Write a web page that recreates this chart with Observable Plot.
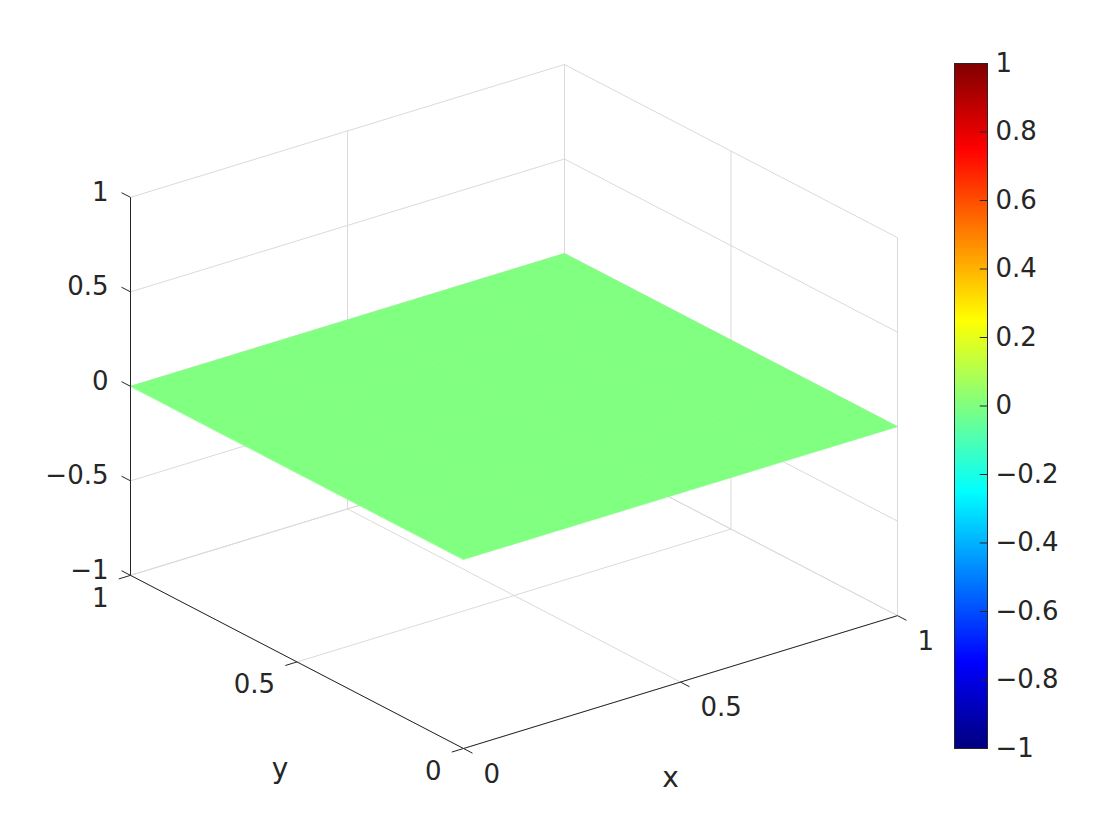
<!DOCTYPE html>
<html>
<head>
<meta charset="utf-8">
<script src="https://cdn.jsdelivr.net/npm/d3@7"></script>
<script src="https://cdn.jsdelivr.net/npm/@observablehq/plot@0.6"></script>
<style>
  html, body { margin: 0; padding: 0; background: #fff; }
  #wrap { position: relative; width: 1120px; height: 840px; overflow: hidden; }
  #main { position: absolute; left: 0; top: 0; }
  #cbar { position: absolute; left: 953px; top: 0; }
</style>
</head>
<body>
<div id="wrap"><div id="main"></div><div id="cbar"></div></div>
<script>
// ---- data ----
const xLim = [0, 1];
const yLim = [0, 1];
const zLim = [-1, 1];
const xTicks = [0, 0.5, 1];
const yTicks = [0, 0.5, 1];
const zTicks = [-1, -0.5, 0, 0.5, 1];
const cbTicks = [-1, -0.8, -0.6, -0.4, -0.2, 0, 0.2, 0.4, 0.6, 0.8, 1];
const cLim = [-1, 1];
const xGrid = [0, 0.25, 0.5, 0.75, 1];
const yGrid = [0, 0.25, 0.5, 0.75, 1];
const zValues = [
  [0, 0, 0, 0, 0],
  [0, 0, 0, 0, 0],
  [0, 0, 0, 0, 0],
  [0, 0, 0, 0, 0],
  [0, 0, 0, 0, 0]
];
const viewAz = -37.5, viewEl = 30;

// ---- jet colormap ----
function jet(t) {
  const c = v => Math.max(0, Math.min(1, v));
  const r = c(1.5 - Math.abs(4 * t - 3));
  const g = c(1.5 - Math.abs(4 * t - 2));
  const b = c(1.5 - Math.abs(4 * t - 1));
  return d3.rgb(r * 255, g * 255, b * 255).formatHex();
}

// ---- projection (orthographic, MATLAB view) ----
const A = -viewAz * Math.PI / 180, E = viewEl * Math.PI / 180;
function proj(x, y, z) {
  const xn = (x - xLim[0]) / (xLim[1] - xLim[0]);
  const yn = (y - yLim[0]) / (yLim[1] - yLim[0]);
  const zn = (z - zLim[0]) / (zLim[1] - zLim[0]);
  return {
    u: xn * Math.cos(A) - yn * Math.sin(A),
    v: Math.sin(E) * (xn * Math.sin(A) + yn * Math.cos(A)) + Math.cos(E) * zn
  };
}
function seg(p, q) {
  const a = proj(...p), b = proj(...q);
  return {u1: a.u, v1: a.v, u2: b.u, v2: b.v};
}

// grid lines on back walls and floor
const gridSegs = [];
for (const xt of xTicks) {
  gridSegs.push(seg([xt, yLim[1], zLim[0]], [xt, yLim[1], zLim[1]]));
  gridSegs.push(seg([xt, yLim[0], zLim[0]], [xt, yLim[1], zLim[0]]));
}
for (const yt of yTicks) {
  gridSegs.push(seg([xLim[1], yt, zLim[0]], [xLim[1], yt, zLim[1]]));
  gridSegs.push(seg([xLim[0], yt, zLim[0]], [xLim[1], yt, zLim[0]]));
}
for (const zt of zTicks) {
  gridSegs.push(seg([xLim[0], yLim[1], zt], [xLim[1], yLim[1], zt]));
  gridSegs.push(seg([xLim[1], yLim[0], zt], [xLim[1], yLim[1], zt]));
}

// surface cells
const cellPts = [];
let cid = 0;
for (let i = 0; i < xGrid.length - 1; i++) {
  for (let j = 0; j < yGrid.length - 1; j++) {
    const corners = [[i, j], [i + 1, j], [i + 1, j + 1], [i, j + 1]];
    const val = d3.mean(corners, ([a, b]) => zValues[b][a]);
    for (const [a, b] of corners) {
      const p = proj(xGrid[a], yGrid[b], zValues[b][a]);
      cellPts.push({cell: cid, u: p.u, v: p.v, val});
    }
    cid++;
  }
}

// axes
const axisSegs = [
  seg([xLim[0], yLim[0], zLim[0]], [xLim[1], yLim[0], zLim[0]]),
  seg([xLim[0], yLim[0], zLim[0]], [xLim[0], yLim[1], zLim[0]]),
  seg([xLim[0], yLim[1], zLim[0]], [xLim[0], yLim[1], zLim[1]])
];
const tl = 0.027;
const tickSegs = [
  ...xTicks.map(t => seg([t, yLim[0], zLim[0]], [t, yLim[0] - tl, zLim[0]])),
  ...yTicks.map(t => seg([xLim[0], t, zLim[0]], [xLim[0] - tl, t, zLim[0]])),
  ...zTicks.map(t => seg([xLim[0], yLim[1], t], [xLim[0], yLim[1] + tl, t]))
];
const fmt = d3.format("~g");
const xLab = xTicks.map(t => ({...proj(t, yLim[0], zLim[0]), s: fmt(t)}));
const yLab = yTicks.map(t => ({...proj(xLim[0], t, zLim[0]), s: fmt(t)}));
const zLab = zTicks.map(t => ({...proj(xLim[0], yLim[1], t), s: fmt(t)}));
const xTitle = [{...proj((xLim[0] + xLim[1]) / 2, yLim[0], zLim[0]), s: "x"}];
const yTitle = [{...proj(xLim[0], (yLim[0] + yLim[1]) / 2, zLim[0]), s: "y"}];

const ink = "#262626";
const font = "DejaVu Sans, sans-serif";
const uDom = [-Math.sin(A), Math.cos(A)];
const vDom = [0, Math.sin(E) * (Math.sin(A) + Math.cos(A)) + Math.cos(E)];

const main = Plot.plot({
  width: 1120, height: 840,
  marginLeft: 130, marginRight: 223, marginTop: 64, marginBottom: 92,
  x: {domain: uDom, axis: null},
  y: {domain: vDom, axis: null},
  color: {type: "linear", domain: cLim, interpolate: jet},
  style: {fontFamily: font, fontSize: "26px", color: ink, background: "white"},
  marks: [
    Plot.link(gridSegs, {x1: "u1", y1: "v1", x2: "u2", y2: "v2", stroke: "#dadada", strokeWidth: 1}),
    Plot.line(cellPts, {x: "u", y: "v", z: "cell", fill: "val", stroke: "val", strokeWidth: 0.6, curve: "linear-closed"}),
    Plot.link(axisSegs, {x1: "u1", y1: "v1", x2: "u2", y2: "v2", stroke: ink, strokeWidth: 1}),
    Plot.link(tickSegs, {x1: "u1", y1: "v1", x2: "u2", y2: "v2", stroke: ink, strokeWidth: 1}),
    Plot.text(zLab, {x: "u", y: "v", text: "s", textAnchor: "end", dx: -22, dy: -5, fill: ink}),
    Plot.text(yLab, {x: "u", y: "v", text: "s", textAnchor: "end", dx: -22, dy: 23, fill: ink}),
    Plot.text(xLab, {x: "u", y: "v", text: "s", textAnchor: "start", dx: 20, dy: 26, fill: ink}),
    Plot.text(xTitle, {x: "u", y: "v", text: "s", dx: -10, dy: 96, fill: ink, fontSize: 28}),
    Plot.text(yTitle, {x: "u", y: "v", text: "s", dx: -17, dy: 107, fill: ink, fontSize: 28})
  ]
});
document.getElementById("main").appendChild(main);

// ---- colorbar ----
const nBands = 256;
const bands = d3.range(nBands).map(i => ({
  y1: cLim[0] + (cLim[1] - cLim[0]) * i / nBands,
  y2: cLim[0] + (cLim[1] - cLim[0]) * (i + 1) / nBands,
  v: cLim[0] + (cLim[1] - cLim[0]) * (i + 0.5) / nBands
}));
const cbar = Plot.plot({
  width: 167, height: 840,
  marginLeft: 1, marginRight: 133, marginTop: 63, marginBottom: 92,
  x: {domain: [0, 1], axis: null},
  y: {domain: cLim, axis: null},
  color: {type: "linear", domain: cLim, interpolate: jet},
  style: {fontFamily: font, fontSize: "26px", color: ink, background: "transparent", overflow: "visible"},
  marks: [
    Plot.rect(bands, {x1: 0, x2: 1, y1: "y1", y2: "y2", fill: "v", shapeRendering: "crispEdges"}),
    Plot.ruleY(cbTicks, {x1: 0.78, x2: 1, stroke: ink, strokeWidth: 1}),
    Plot.frame({stroke: ink, strokeWidth: 1}),
    Plot.axisY(cbTicks, {anchor: "right", tickSize: 0, tickPadding: 8, tickFormat: fmt, label: null, fill: ink})
  ]
});
document.getElementById("cbar").appendChild(cbar);
</script>
</body>
</html>
